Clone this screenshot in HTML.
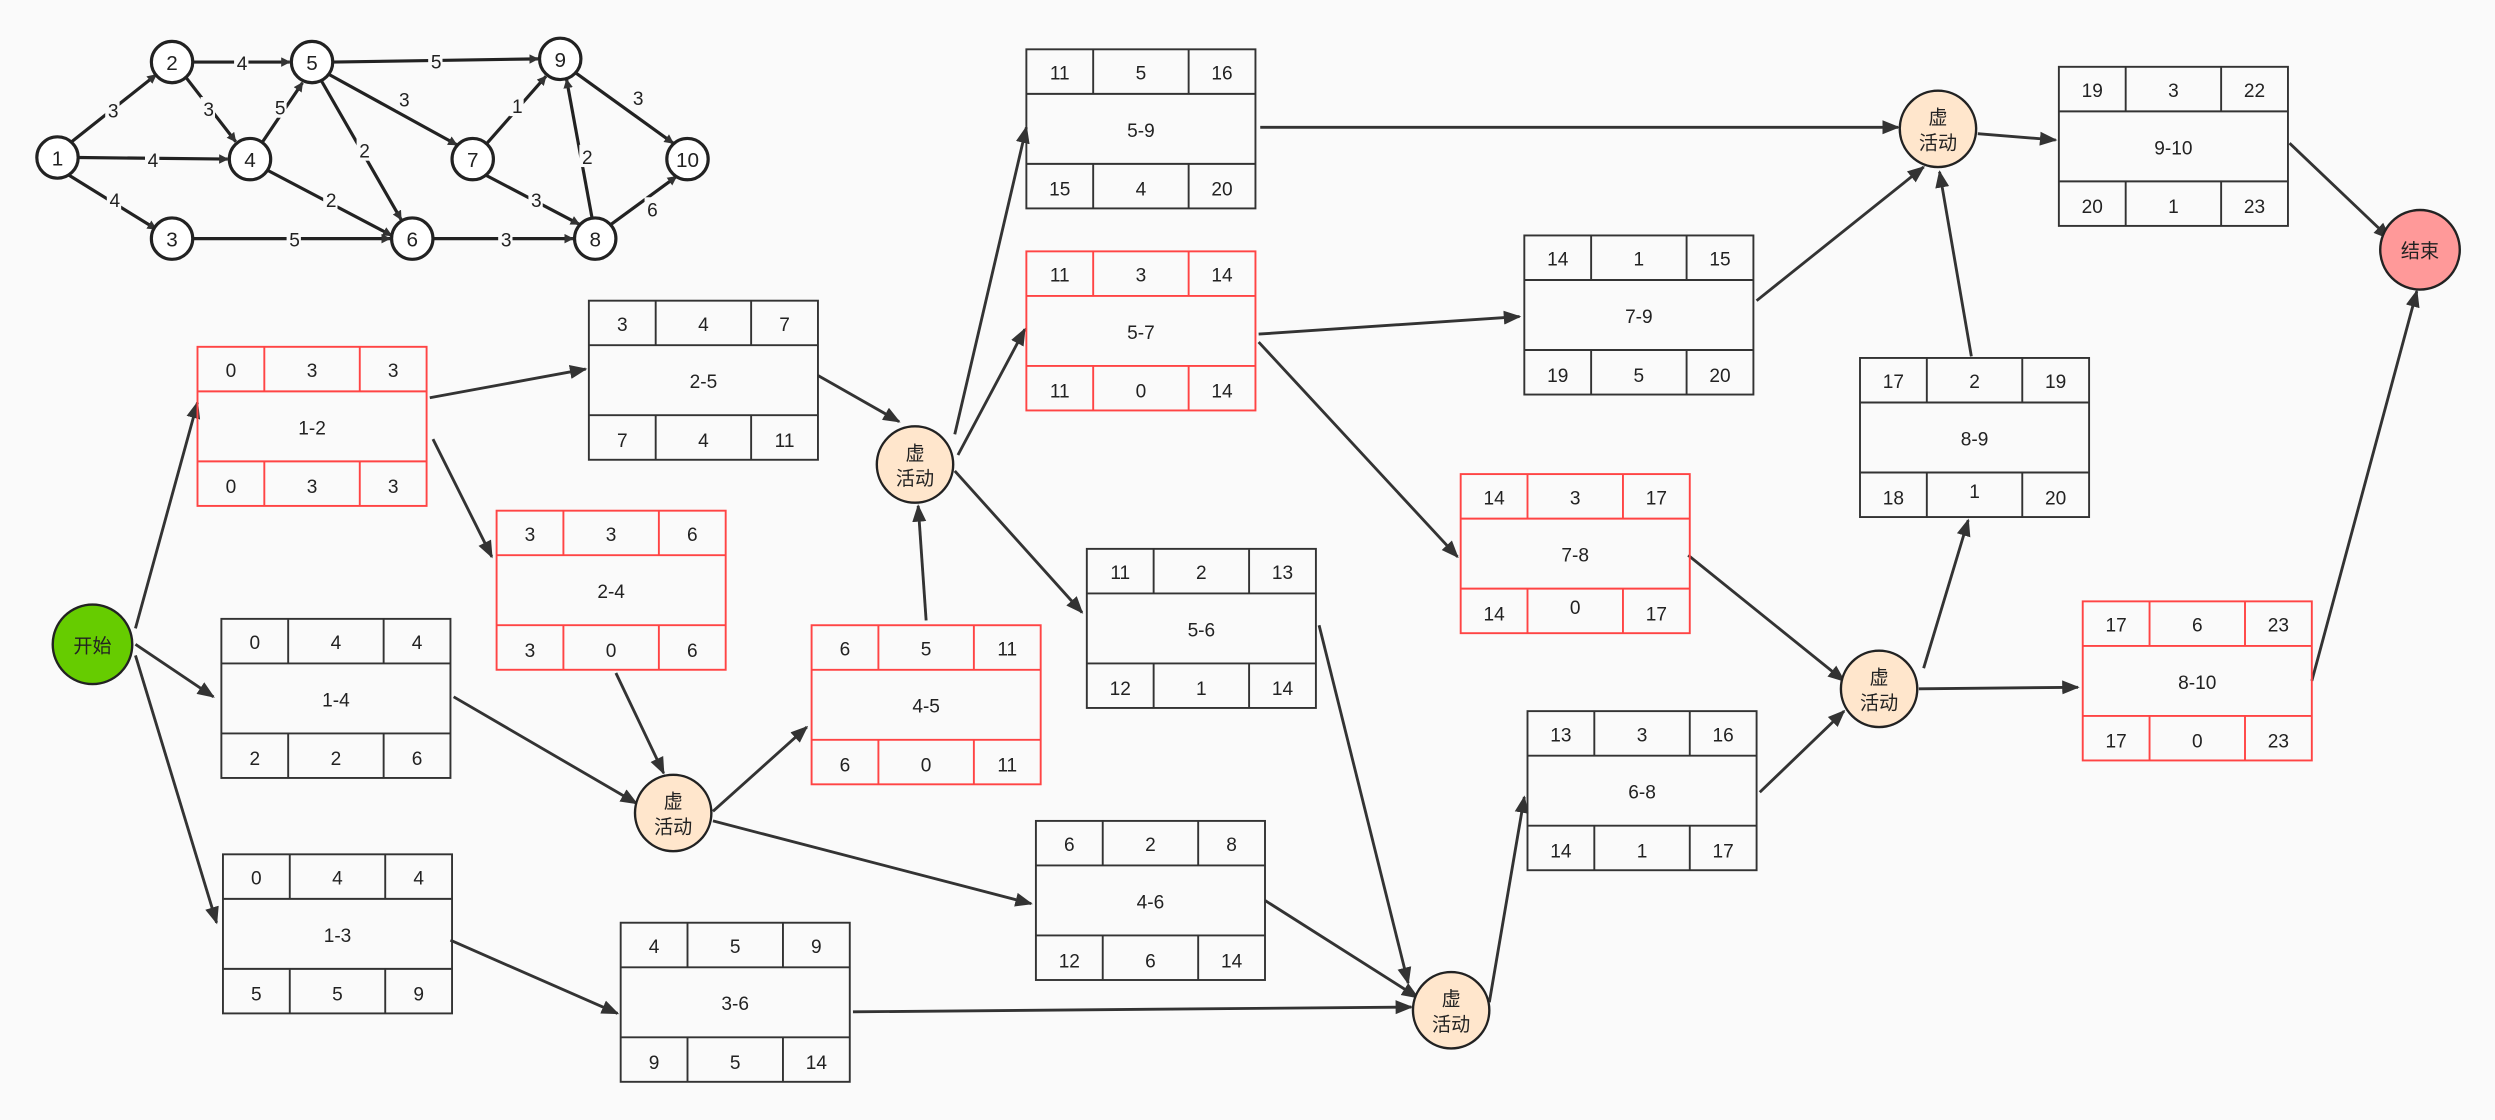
<!DOCTYPE html>
<html><head><meta charset="utf-8"><style>
html,body{margin:0;padding:0;background:#fafafa;}
svg{display:block;}
text{font-family:"Liberation Sans","Noto Sans CJK SC",sans-serif;fill:#222;}
</style></head><body>
<svg width="2495" height="1120" viewBox="0 0 1568 704" xmlns="http://www.w3.org/2000/svg">
<defs>
<marker id="a" viewBox="0 0 10 10" refX="9" refY="5" markerWidth="6" markerHeight="6" orient="auto" markerUnits="userSpaceOnUse"><path d="M0,0 L10,5 L0,10 z" fill="#333"/></marker>
<marker id="b" viewBox="0 0 10 10" refX="9" refY="5" markerWidth="11" markerHeight="11" orient="auto" markerUnits="userSpaceOnUse"><path d="M0,1 L10,5 L0,9 z" fill="#333"/></marker>
</defs>
<rect width="1568" height="704" fill="#fafafa"/>

<!-- mini graph edges -->
<g stroke="#222" stroke-width="2" marker-end="url(#a)" fill="none">
<line x1="45" y1="89" x2="98" y2="47"/>
<line x1="121" y1="39" x2="182" y2="39"/>
<line x1="209" y1="39" x2="338" y2="37"/>
<line x1="117" y1="49" x2="148" y2="89"/>
<line x1="165" y1="89" x2="190" y2="52"/>
<line x1="49" y1="99" x2="143" y2="100"/>
<line x1="207" y1="47" x2="287" y2="91"/>
<line x1="202" y1="51" x2="252" y2="138"/>
<line x1="306" y1="90" x2="343" y2="48"/>
<line x1="372" y1="137" x2="356" y2="50"/>
<line x1="362" y1="46" x2="423" y2="90"/>
<line x1="43" y1="110" x2="98" y2="144"/>
<line x1="168" y1="107" x2="246" y2="148"/>
<line x1="121" y1="150" x2="245" y2="150"/>
<line x1="272" y1="150" x2="360" y2="150"/>
<line x1="305" y1="110" x2="364" y2="141"/>
<line x1="384" y1="141" x2="425" y2="111"/>
</g>
<g font-size="12" text-anchor="middle">
<g fill="#fafafa"><rect x="66" y="62" width="9" height="14"/><rect x="147" y="32" width="9" height="14"/><rect x="269" y="31" width="9" height="14"/><rect x="126" y="61" width="9" height="14"/><rect x="171" y="60" width="9" height="14"/><rect x="91" y="93" width="9" height="14"/><rect x="249" y="55" width="9" height="14"/><rect x="224" y="87" width="9" height="14"/><rect x="320" y="59" width="9" height="14"/><rect x="364" y="91" width="9" height="14"/><rect x="396" y="54" width="9" height="14"/><rect x="67" y="118" width="9" height="14"/><rect x="203" y="118" width="9" height="14"/><rect x="180" y="143" width="9" height="14"/><rect x="313" y="143" width="9" height="14"/><rect x="332" y="118" width="9" height="14"/><rect x="405" y="124" width="9" height="14"/></g>
<text x="71" y="74">3</text><text x="152" y="44">4</text><text x="274" y="43">5</text><text x="131" y="73">3</text><text x="176" y="72">5</text><text x="96" y="105">4</text><text x="254" y="67">3</text><text x="229" y="99">2</text><text x="325" y="71">1</text><text x="369" y="103">2</text><text x="401" y="66">3</text><text x="72" y="130">4</text><text x="208" y="130">2</text><text x="185" y="155">5</text><text x="318" y="155">3</text><text x="337" y="130">3</text><text x="410" y="136">6</text>
</g>
<g fill="#fff" stroke="#222" stroke-width="2">
<circle cx="36" cy="99" r="13"/><circle cx="108" cy="39" r="13"/><circle cx="196" cy="39" r="13"/><circle cx="352" cy="37" r="13"/><circle cx="157" cy="100" r="13"/><circle cx="297" cy="100" r="13"/><circle cx="432" cy="100" r="13"/><circle cx="108" cy="150" r="13"/><circle cx="259" cy="150" r="13"/><circle cx="374" cy="150" r="13"/>
</g>
<g font-size="13" text-anchor="middle">
<text x="36" y="104">1</text><text x="108" y="44">2</text><text x="196" y="44">5</text><text x="352" y="42">9</text><text x="157" y="105">4</text><text x="297" y="105">7</text><text x="432" y="105">10</text><text x="108" y="155">3</text><text x="259" y="155">6</text><text x="374" y="155">8</text>
</g>

<!-- main arrows -->
<g stroke="#333" stroke-width="1.8" marker-end="url(#b)" fill="none">
<line x1="85" y1="395" x2="124" y2="253"/>
<line x1="85" y1="405" x2="134" y2="438"/>
<line x1="85" y1="412" x2="136" y2="580"/>
<line x1="270" y1="250" x2="368" y2="232"/>
<line x1="272" y1="276" x2="309" y2="350"/>
<line x1="514" y1="236" x2="565" y2="265"/>
<line x1="387" y1="423" x2="417" y2="486"/>
<line x1="285" y1="438" x2="400" y2="505"/>
<line x1="448" y1="510" x2="507" y2="457"/>
<line x1="448" y1="516" x2="648" y2="568"/>
<line x1="582" y1="390" x2="577" y2="318"/>
<line x1="600" y1="273" x2="645" y2="80"/>
<line x1="602" y1="286" x2="644" y2="207"/>
<line x1="600" y1="296" x2="680" y2="385"/>
<line x1="283" y1="591" x2="388" y2="637"/>
<line x1="536" y1="636" x2="887" y2="633"/>
<line x1="795" y1="566" x2="891" y2="627"/>
<line x1="829" y1="393" x2="885" y2="618"/>
<line x1="936" y1="630" x2="958" y2="501"/>
<line x1="791" y1="210" x2="955" y2="199"/>
<line x1="791" y1="215" x2="916" y2="350"/>
<line x1="1104" y1="189" x2="1209" y2="105"/>
<line x1="792" y1="80" x2="1193" y2="80"/>
<line x1="1243" y1="84" x2="1292" y2="88"/>
<line x1="1106" y1="498" x2="1159" y2="447"/>
<line x1="1061" y1="349" x2="1159" y2="428"/>
<line x1="1209" y1="420" x2="1237" y2="327"/>
<line x1="1206" y1="433" x2="1306" y2="432"/>
<line x1="1239" y1="224" x2="1219" y2="108"/>
<line x1="1439" y1="90" x2="1502" y2="150"/>
<line x1="1453" y1="428" x2="1519" y2="183"/>
</g>

<!-- circles -->
<g stroke="#222" stroke-width="1.5">
<circle cx="58" cy="405" r="25" fill="#66cc00"/>
<circle cx="1521" cy="157" r="25" fill="#ff9999"/>
<g fill="#ffe6cc"><circle cx="575" cy="292" r="24"/><circle cx="423" cy="511" r="24"/><circle cx="912" cy="635" r="24"/><circle cx="1218" cy="81" r="24"/><circle cx="1181" cy="433" r="24"/></g>
</g>
<g font-size="12" text-anchor="middle">
<text x="58" y="410">开始</text><text x="1521" y="162">结束</text>
<text x="575" y="289">虚</text><text x="575" y="305">活动</text>
<text x="423" y="508">虚</text><text x="423" y="524">活动</text>
<text x="912" y="632">虚</text><text x="912" y="648">活动</text>
<text x="1218" y="78">虚</text><text x="1218" y="94">活动</text>
<text x="1181" y="430">虚</text><text x="1181" y="446">活动</text>
</g>

<!-- boxes -->
<g font-size="12" text-anchor="middle">
<g transform="translate(124,218)" stroke="#f44"><g fill="none" stroke-width="1.2"><rect width="144" height="100"/><line y1="28" x2="144" y2="28"/><line y1="72" x2="144" y2="72"/><line x1="42" x2="42" y2="28"/><line x1="102" x2="102" y2="28"/><line x1="42" x2="42" y1="72" y2="100"/><line x1="102" x2="102" y1="72" y2="100"/></g><g stroke="none"><text x="21" y="19">0</text><text x="72" y="19">3</text><text x="123" y="19">3</text><text x="72" y="55">1-2</text><text x="21" y="92">0</text><text x="72" y="92">3</text><text x="123" y="92">3</text></g></g>
<g transform="translate(370,189)" stroke="#333"><g fill="none" stroke-width="1.2"><rect width="144" height="100"/><line y1="28" x2="144" y2="28"/><line y1="72" x2="144" y2="72"/><line x1="42" x2="42" y2="28"/><line x1="102" x2="102" y2="28"/><line x1="42" x2="42" y1="72" y2="100"/><line x1="102" x2="102" y1="72" y2="100"/></g><g stroke="none"><text x="21" y="19">3</text><text x="72" y="19">4</text><text x="123" y="19">7</text><text x="72" y="55">2-5</text><text x="21" y="92">7</text><text x="72" y="92">4</text><text x="123" y="92">11</text></g></g>
<g transform="translate(312,321)" stroke="#f44"><g fill="none" stroke-width="1.2"><rect width="144" height="100"/><line y1="28" x2="144" y2="28"/><line y1="72" x2="144" y2="72"/><line x1="42" x2="42" y2="28"/><line x1="102" x2="102" y2="28"/><line x1="42" x2="42" y1="72" y2="100"/><line x1="102" x2="102" y1="72" y2="100"/></g><g stroke="none"><text x="21" y="19">3</text><text x="72" y="19">3</text><text x="123" y="19">6</text><text x="72" y="55">2-4</text><text x="21" y="92">3</text><text x="72" y="92">0</text><text x="123" y="92">6</text></g></g>
<g transform="translate(139,389)" stroke="#333"><g fill="none" stroke-width="1.2"><rect width="144" height="100"/><line y1="28" x2="144" y2="28"/><line y1="72" x2="144" y2="72"/><line x1="42" x2="42" y2="28"/><line x1="102" x2="102" y2="28"/><line x1="42" x2="42" y1="72" y2="100"/><line x1="102" x2="102" y1="72" y2="100"/></g><g stroke="none"><text x="21" y="19">0</text><text x="72" y="19">4</text><text x="123" y="19">4</text><text x="72" y="55">1-4</text><text x="21" y="92">2</text><text x="72" y="92">2</text><text x="123" y="92">6</text></g></g>
<g transform="translate(140,537)" stroke="#333"><g fill="none" stroke-width="1.2"><rect width="144" height="100"/><line y1="28" x2="144" y2="28"/><line y1="72" x2="144" y2="72"/><line x1="42" x2="42" y2="28"/><line x1="102" x2="102" y2="28"/><line x1="42" x2="42" y1="72" y2="100"/><line x1="102" x2="102" y1="72" y2="100"/></g><g stroke="none"><text x="21" y="19">0</text><text x="72" y="19">4</text><text x="123" y="19">4</text><text x="72" y="55">1-3</text><text x="21" y="92">5</text><text x="72" y="92">5</text><text x="123" y="92">9</text></g></g>
<g transform="translate(390,580)" stroke="#333"><g fill="none" stroke-width="1.2"><rect width="144" height="100"/><line y1="28" x2="144" y2="28"/><line y1="72" x2="144" y2="72"/><line x1="42" x2="42" y2="28"/><line x1="102" x2="102" y2="28"/><line x1="42" x2="42" y1="72" y2="100"/><line x1="102" x2="102" y1="72" y2="100"/></g><g stroke="none"><text x="21" y="19">4</text><text x="72" y="19">5</text><text x="123" y="19">9</text><text x="72" y="55">3-6</text><text x="21" y="92">9</text><text x="72" y="92">5</text><text x="123" y="92">14</text></g></g>
<g transform="translate(510,393)" stroke="#f44"><g fill="none" stroke-width="1.2"><rect width="144" height="100"/><line y1="28" x2="144" y2="28"/><line y1="72" x2="144" y2="72"/><line x1="42" x2="42" y2="28"/><line x1="102" x2="102" y2="28"/><line x1="42" x2="42" y1="72" y2="100"/><line x1="102" x2="102" y1="72" y2="100"/></g><g stroke="none"><text x="21" y="19">6</text><text x="72" y="19">5</text><text x="123" y="19">11</text><text x="72" y="55">4-5</text><text x="21" y="92">6</text><text x="72" y="92">0</text><text x="123" y="92">11</text></g></g>
<g transform="translate(651,516)" stroke="#333"><g fill="none" stroke-width="1.2"><rect width="144" height="100"/><line y1="28" x2="144" y2="28"/><line y1="72" x2="144" y2="72"/><line x1="42" x2="42" y2="28"/><line x1="102" x2="102" y2="28"/><line x1="42" x2="42" y1="72" y2="100"/><line x1="102" x2="102" y1="72" y2="100"/></g><g stroke="none"><text x="21" y="19">6</text><text x="72" y="19">2</text><text x="123" y="19">8</text><text x="72" y="55">4-6</text><text x="21" y="92">12</text><text x="72" y="92">6</text><text x="123" y="92">14</text></g></g>
<g transform="translate(683,345)" stroke="#333"><g fill="none" stroke-width="1.2"><rect width="144" height="100"/><line y1="28" x2="144" y2="28"/><line y1="72" x2="144" y2="72"/><line x1="42" x2="42" y2="28"/><line x1="102" x2="102" y2="28"/><line x1="42" x2="42" y1="72" y2="100"/><line x1="102" x2="102" y1="72" y2="100"/></g><g stroke="none"><text x="21" y="19">11</text><text x="72" y="19">2</text><text x="123" y="19">13</text><text x="72" y="55">5-6</text><text x="21" y="92">12</text><text x="72" y="92">1</text><text x="123" y="92">14</text></g></g>
<g transform="translate(645,31)" stroke="#333"><g fill="none" stroke-width="1.2"><rect width="144" height="100"/><line y1="28" x2="144" y2="28"/><line y1="72" x2="144" y2="72"/><line x1="42" x2="42" y2="28"/><line x1="102" x2="102" y2="28"/><line x1="42" x2="42" y1="72" y2="100"/><line x1="102" x2="102" y1="72" y2="100"/></g><g stroke="none"><text x="21" y="19">11</text><text x="72" y="19">5</text><text x="123" y="19">16</text><text x="72" y="55">5-9</text><text x="21" y="92">15</text><text x="72" y="92">4</text><text x="123" y="92">20</text></g></g>
<g transform="translate(645,158)" stroke="#f44"><g fill="none" stroke-width="1.2"><rect width="144" height="100"/><line y1="28" x2="144" y2="28"/><line y1="72" x2="144" y2="72"/><line x1="42" x2="42" y2="28"/><line x1="102" x2="102" y2="28"/><line x1="42" x2="42" y1="72" y2="100"/><line x1="102" x2="102" y1="72" y2="100"/></g><g stroke="none"><text x="21" y="19">11</text><text x="72" y="19">3</text><text x="123" y="19">14</text><text x="72" y="55">5-7</text><text x="21" y="92">11</text><text x="72" y="92">0</text><text x="123" y="92">14</text></g></g>
<g transform="translate(958,148)" stroke="#333"><g fill="none" stroke-width="1.2"><rect width="144" height="100"/><line y1="28" x2="144" y2="28"/><line y1="72" x2="144" y2="72"/><line x1="42" x2="42" y2="28"/><line x1="102" x2="102" y2="28"/><line x1="42" x2="42" y1="72" y2="100"/><line x1="102" x2="102" y1="72" y2="100"/></g><g stroke="none"><text x="21" y="19">14</text><text x="72" y="19">1</text><text x="123" y="19">15</text><text x="72" y="55">7-9</text><text x="21" y="92">19</text><text x="72" y="92">5</text><text x="123" y="92">20</text></g></g>
<g transform="translate(918,298)" stroke="#f44"><g fill="none" stroke-width="1.2"><rect width="144" height="100"/><line y1="28" x2="144" y2="28"/><line y1="72" x2="144" y2="72"/><line x1="42" x2="42" y2="28"/><line x1="102" x2="102" y2="28"/><line x1="42" x2="42" y1="72" y2="100"/><line x1="102" x2="102" y1="72" y2="100"/></g><g stroke="none"><text x="21" y="19">14</text><text x="72" y="19">3</text><text x="123" y="19">17</text><text x="72" y="55">7-8</text><text x="21" y="92">14</text><text x="72" y="88">0</text><text x="123" y="92">17</text></g></g>
<g transform="translate(960,447)" stroke="#333"><g fill="none" stroke-width="1.2"><rect width="144" height="100"/><line y1="28" x2="144" y2="28"/><line y1="72" x2="144" y2="72"/><line x1="42" x2="42" y2="28"/><line x1="102" x2="102" y2="28"/><line x1="42" x2="42" y1="72" y2="100"/><line x1="102" x2="102" y1="72" y2="100"/></g><g stroke="none"><text x="21" y="19">13</text><text x="72" y="19">3</text><text x="123" y="19">16</text><text x="72" y="55">6-8</text><text x="21" y="92">14</text><text x="72" y="92">1</text><text x="123" y="92">17</text></g></g>
<g transform="translate(1169,225)" stroke="#333"><g fill="none" stroke-width="1.2"><rect width="144" height="100"/><line y1="28" x2="144" y2="28"/><line y1="72" x2="144" y2="72"/><line x1="42" x2="42" y2="28"/><line x1="102" x2="102" y2="28"/><line x1="42" x2="42" y1="72" y2="100"/><line x1="102" x2="102" y1="72" y2="100"/></g><g stroke="none"><text x="21" y="19">17</text><text x="72" y="19">2</text><text x="123" y="19">19</text><text x="72" y="55">8-9</text><text x="21" y="92">18</text><text x="72" y="88">1</text><text x="123" y="92">20</text></g></g>
<g transform="translate(1309,378)" stroke="#f44"><g fill="none" stroke-width="1.2"><rect width="144" height="100"/><line y1="28" x2="144" y2="28"/><line y1="72" x2="144" y2="72"/><line x1="42" x2="42" y2="28"/><line x1="102" x2="102" y2="28"/><line x1="42" x2="42" y1="72" y2="100"/><line x1="102" x2="102" y1="72" y2="100"/></g><g stroke="none"><text x="21" y="19">17</text><text x="72" y="19">6</text><text x="123" y="19">23</text><text x="72" y="55">8-10</text><text x="21" y="92">17</text><text x="72" y="92">0</text><text x="123" y="92">23</text></g></g>
<g transform="translate(1294,42)" stroke="#333"><g fill="none" stroke-width="1.2"><rect width="144" height="100"/><line y1="28" x2="144" y2="28"/><line y1="72" x2="144" y2="72"/><line x1="42" x2="42" y2="28"/><line x1="102" x2="102" y2="28"/><line x1="42" x2="42" y1="72" y2="100"/><line x1="102" x2="102" y1="72" y2="100"/></g><g stroke="none"><text x="21" y="19">19</text><text x="72" y="19">3</text><text x="123" y="19">22</text><text x="72" y="55">9-10</text><text x="21" y="92">20</text><text x="72" y="92">1</text><text x="123" y="92">23</text></g></g>
</g>
</svg>
</body></html>
